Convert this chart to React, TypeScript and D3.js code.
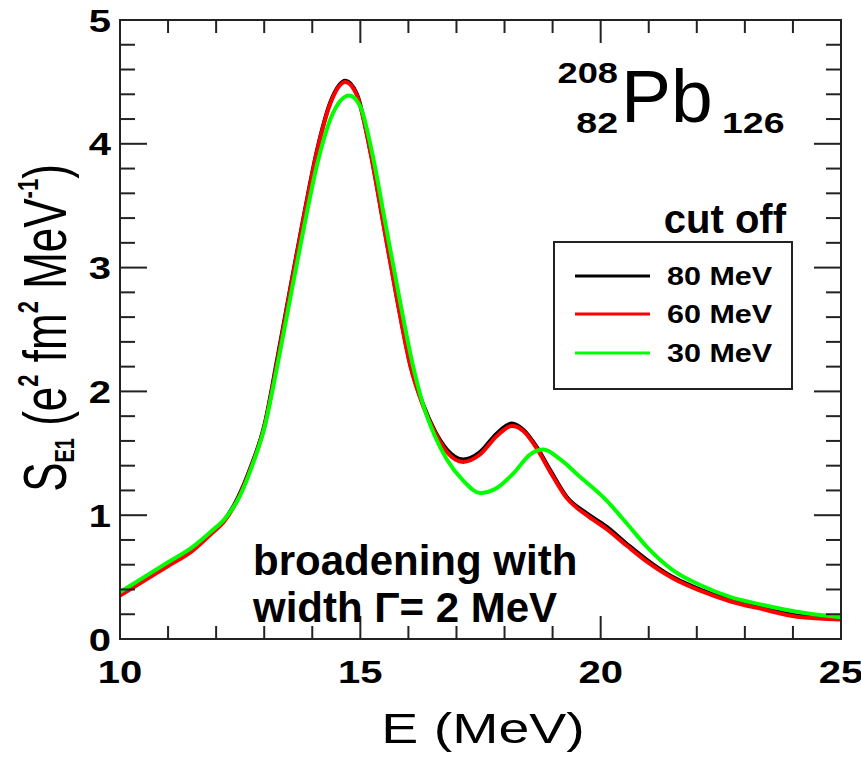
import React from "react";
import * as d3 from "d3";

const W = 861;
const H = 757;

// E (MeV) and S_E1 values, cut off 80 MeV
const blackE = [10.0, 10.5, 11.0, 11.5, 11.9, 12.17, 12.45, 12.72, 13.0, 13.28, 13.55, 13.83, 14.1, 14.38, 14.69, 14.93, 15.21, 15.48, 15.76, 16.05, 16.3, 16.55, 16.8, 17.14, 17.49, 17.84, 18.15, 18.39, 18.67, 18.95, 19.29, 19.71, 20.12, 20.54, 20.96, 21.5, 22.07, 22.69, 23.38, 24.08, 25.0];
const blackS = [0.36, 0.48, 0.6, 0.72, 0.86, 0.96, 1.14, 1.39, 1.72, 2.28, 2.85, 3.43, 3.95, 4.34, 4.51, 4.4, 3.94, 3.36, 2.76, 2.2, 1.9, 1.68, 1.53, 1.45, 1.51, 1.66, 1.74, 1.69, 1.55, 1.365, 1.15, 1.015, 0.907, 0.77, 0.64, 0.5, 0.4, 0.315, 0.25, 0.19, 0.165];

// cut off 60 MeV
const redE = blackE;
const redS = [0.35, 0.47, 0.59, 0.71, 0.85, 0.95, 1.13, 1.38, 1.71, 2.26, 2.84, 3.42, 3.94, 4.33, 4.5, 4.39, 3.93, 3.35, 2.75, 2.19, 1.89, 1.67, 1.51, 1.43, 1.49, 1.64, 1.72, 1.68, 1.54, 1.35, 1.14, 1.0, 0.89, 0.755, 0.625, 0.49, 0.39, 0.305, 0.24, 0.18, 0.158];

// cut off 30 MeV
const greenE = [10.0, 10.5, 11.0, 11.5, 11.9, 12.2, 12.5, 12.75, 13.0, 13.28, 13.55, 13.83, 14.1, 14.4, 14.77, 15.0, 15.25, 15.52, 15.8, 16.1, 16.3, 16.55, 16.8, 17.14, 17.49, 17.84, 18.19, 18.53, 18.81, 19.16, 19.57, 20.12, 20.54, 20.96, 21.5, 22.07, 22.69, 23.38, 24.08, 25.0];
const greenS = [0.38, 0.5, 0.62, 0.74, 0.87, 0.98, 1.16, 1.4, 1.7, 2.22, 2.77, 3.33, 3.83, 4.22, 4.39, 4.3, 3.92, 3.36, 2.78, 2.2, 1.9, 1.64, 1.45, 1.28, 1.18, 1.22, 1.34, 1.49, 1.53, 1.45, 1.31, 1.12, 0.935, 0.745, 0.557, 0.436, 0.34, 0.275, 0.22, 0.175];

const legendLabels = ["80 MeV", "60 MeV", "30 MeV"];
const seriesColors = ["#000000", "#ff0000", "#00ff00"];

const xMajor = [10, 15, 20, 25];
const yMajor = [0, 1, 2, 3, 4, 5];

const L = 120, R = 841, T = 20, B = 639;

export default function App() {
  const x = d3.scaleLinear().domain([10, 25]).range([L, R]);
  const y = d3.scaleLinear().domain([0, 5]).range([B, T]);
  const line = d3
    .line<[number, number]>()
    .x((d) => x(d[0]))
    .y((d) => y(d[1]))
    .curve(d3.curveMonotoneX);

  const series = [
    { e: blackE, s: blackS },
    { e: redE, s: redS },
    { e: greenE, s: greenS },
  ];

  const xMinor = d3.range(10, 25.001, 1).filter((v) => !xMajor.includes(v));
  const yMinor = d3
    .range(0, 5.001, 0.2)
    .map((v) => Math.round(v * 10) / 10)
    .filter((v) => !yMajor.includes(v));

  const arial = "'Liberation Sans', Arial, Helvetica, sans-serif";

  return (
    <svg
      width={W}
      height={H}
      style={{ position: "absolute", left: 0, top: 0, background: "#fff" }}
    >
      <rect x={0} y={0} width={W} height={H} fill="#fff" />
      {/* curves */}
      {series.map((sr, i) => (
        <path
          key={i}
          d={line(sr.e.map((v, k) => [v, sr.s[k]] as [number, number])) || ""}
          fill="none"
          stroke={seriesColors[i]}
          strokeWidth={4}
          strokeLinejoin="round"
        />
      ))}

      {/* frame */}
      <rect x={L} y={T} width={R - L} height={B - T} fill="none" stroke="#222" strokeWidth={2} />

      {/* x ticks */}
      {xMajor.map((v) => (
        <g key={"xM" + v}>
          <line x1={x(v)} x2={x(v)} y1={B} y2={B - 23} stroke="#222" strokeWidth={2} />
          <line x1={x(v)} x2={x(v)} y1={T} y2={T + 23} stroke="#222" strokeWidth={2} />
        </g>
      ))}
      {xMinor.map((v) => (
        <g key={"xm" + v}>
          <line x1={x(v)} x2={x(v)} y1={B} y2={B - 13} stroke="#222" strokeWidth={2} />
          <line x1={x(v)} x2={x(v)} y1={T} y2={T + 13} stroke="#222" strokeWidth={2} />
        </g>
      ))}
      {yMajor.map((v) => (
        <g key={"yM" + v}>
          <line x1={L} x2={L + 27} y1={y(v)} y2={y(v)} stroke="#222" strokeWidth={2} />
          <line x1={R} x2={R - 27} y1={y(v)} y2={y(v)} stroke="#222" strokeWidth={2} />
        </g>
      ))}
      {yMinor.map((v) => (
        <g key={"ym" + v}>
          <line x1={L} x2={L + 15} y1={y(v)} y2={y(v)} stroke="#222" strokeWidth={2} />
          <line x1={R} x2={R - 15} y1={y(v)} y2={y(v)} stroke="#222" strokeWidth={2} />
        </g>
      ))}

      {/* tick labels */}
      {xMajor.map((v) => (
        <text
          key={"xl" + v}
          transform={`translate(${x(v)},683) scale(1.25,1)`}
          textAnchor="middle"
          fontFamily={arial}
          fontWeight="bold"
          fontSize={32}
        >
          {v}
        </text>
      ))}
      {yMajor.map((v) => (
        <text
          key={"yl" + v}
          transform={`translate(111,${y(v) + 11.5}) scale(1.25,1)`}
          textAnchor="end"
          fontFamily={arial}
          fontWeight="bold"
          fontSize={32}
        >
          {v}
        </text>
      ))}

      {/* x axis title */}
      <text
        transform={`translate(483,743) scale(1.29,1)`}
        textAnchor="middle"
        fontFamily={arial}
        fontSize={43}
      >
        E (MeV)
      </text>

      {/* y axis title */}
      <text
        transform={`translate(66,328) rotate(-90) scale(1,1.38)`}
        textAnchor="middle"
        fontFamily={arial}
        fontSize={44}
      >
        <tspan>S</tspan>
        <tspan fontSize={20} fontWeight="bold" dy={6}>E1</tspan>
        <tspan dy={-6}> (e</tspan>
        <tspan fontSize={22} fontWeight="bold" dy={-20}>2</tspan>
        <tspan dy={20}> fm</tspan>
        <tspan fontSize={22} fontWeight="bold" dy={-20}>2</tspan>
        <tspan dy={20}> MeV</tspan>
        <tspan fontSize={22} fontWeight="bold" dy={-20}>-1</tspan>
        <tspan dy={20}>)</tspan>
      </text>

      {/* nucleus label */}
      <text transform="translate(618,83) scale(1.25,1)" textAnchor="end" fontFamily={arial} fontWeight="bold" fontSize={29}>208</text>
      <text transform="translate(618,133) scale(1.25,1)" textAnchor="end" fontFamily={arial} fontWeight="bold" fontSize={30}>82</text>
      <text x={621} y={122} fontFamily={arial} fontSize={75}>Pb</text>
      <text transform="translate(722,133) scale(1.25,1)" fontFamily={arial} fontWeight="bold" fontSize={30}>126</text>

      {/* cut off */}
      <text x={786} y={233} textAnchor="end" fontFamily={arial} fontWeight="bold" fontSize={40}>cut off</text>

      {/* legend */}
      <rect x={554} y={242} width={238} height={147} fill="#fff" stroke="#222" strokeWidth={2} />
      {legendLabels.map((lab, i) => {
        const ly = [276, 314, 353][i];
        return (
          <g key={lab}>
            <line x1={575} x2={650} y1={ly} y2={ly} stroke={seriesColors[i]} strokeWidth={3} />
            <text
              transform={`translate(667,${ly + 9}) scale(1.22,1)`}
              fontFamily={arial}
              fontWeight="bold"
              fontSize={25}
            >
              {lab}
            </text>
          </g>
        );
      })}

      {/* annotation */}
      <text x={253} y={575} fontFamily={arial} fontWeight="bold" fontSize={42}>broadening with</text>
      <text x={253} y={622} fontFamily={arial} fontWeight="bold" fontSize={42}>width Γ= 2 MeV</text>
    </svg>
  );
}
